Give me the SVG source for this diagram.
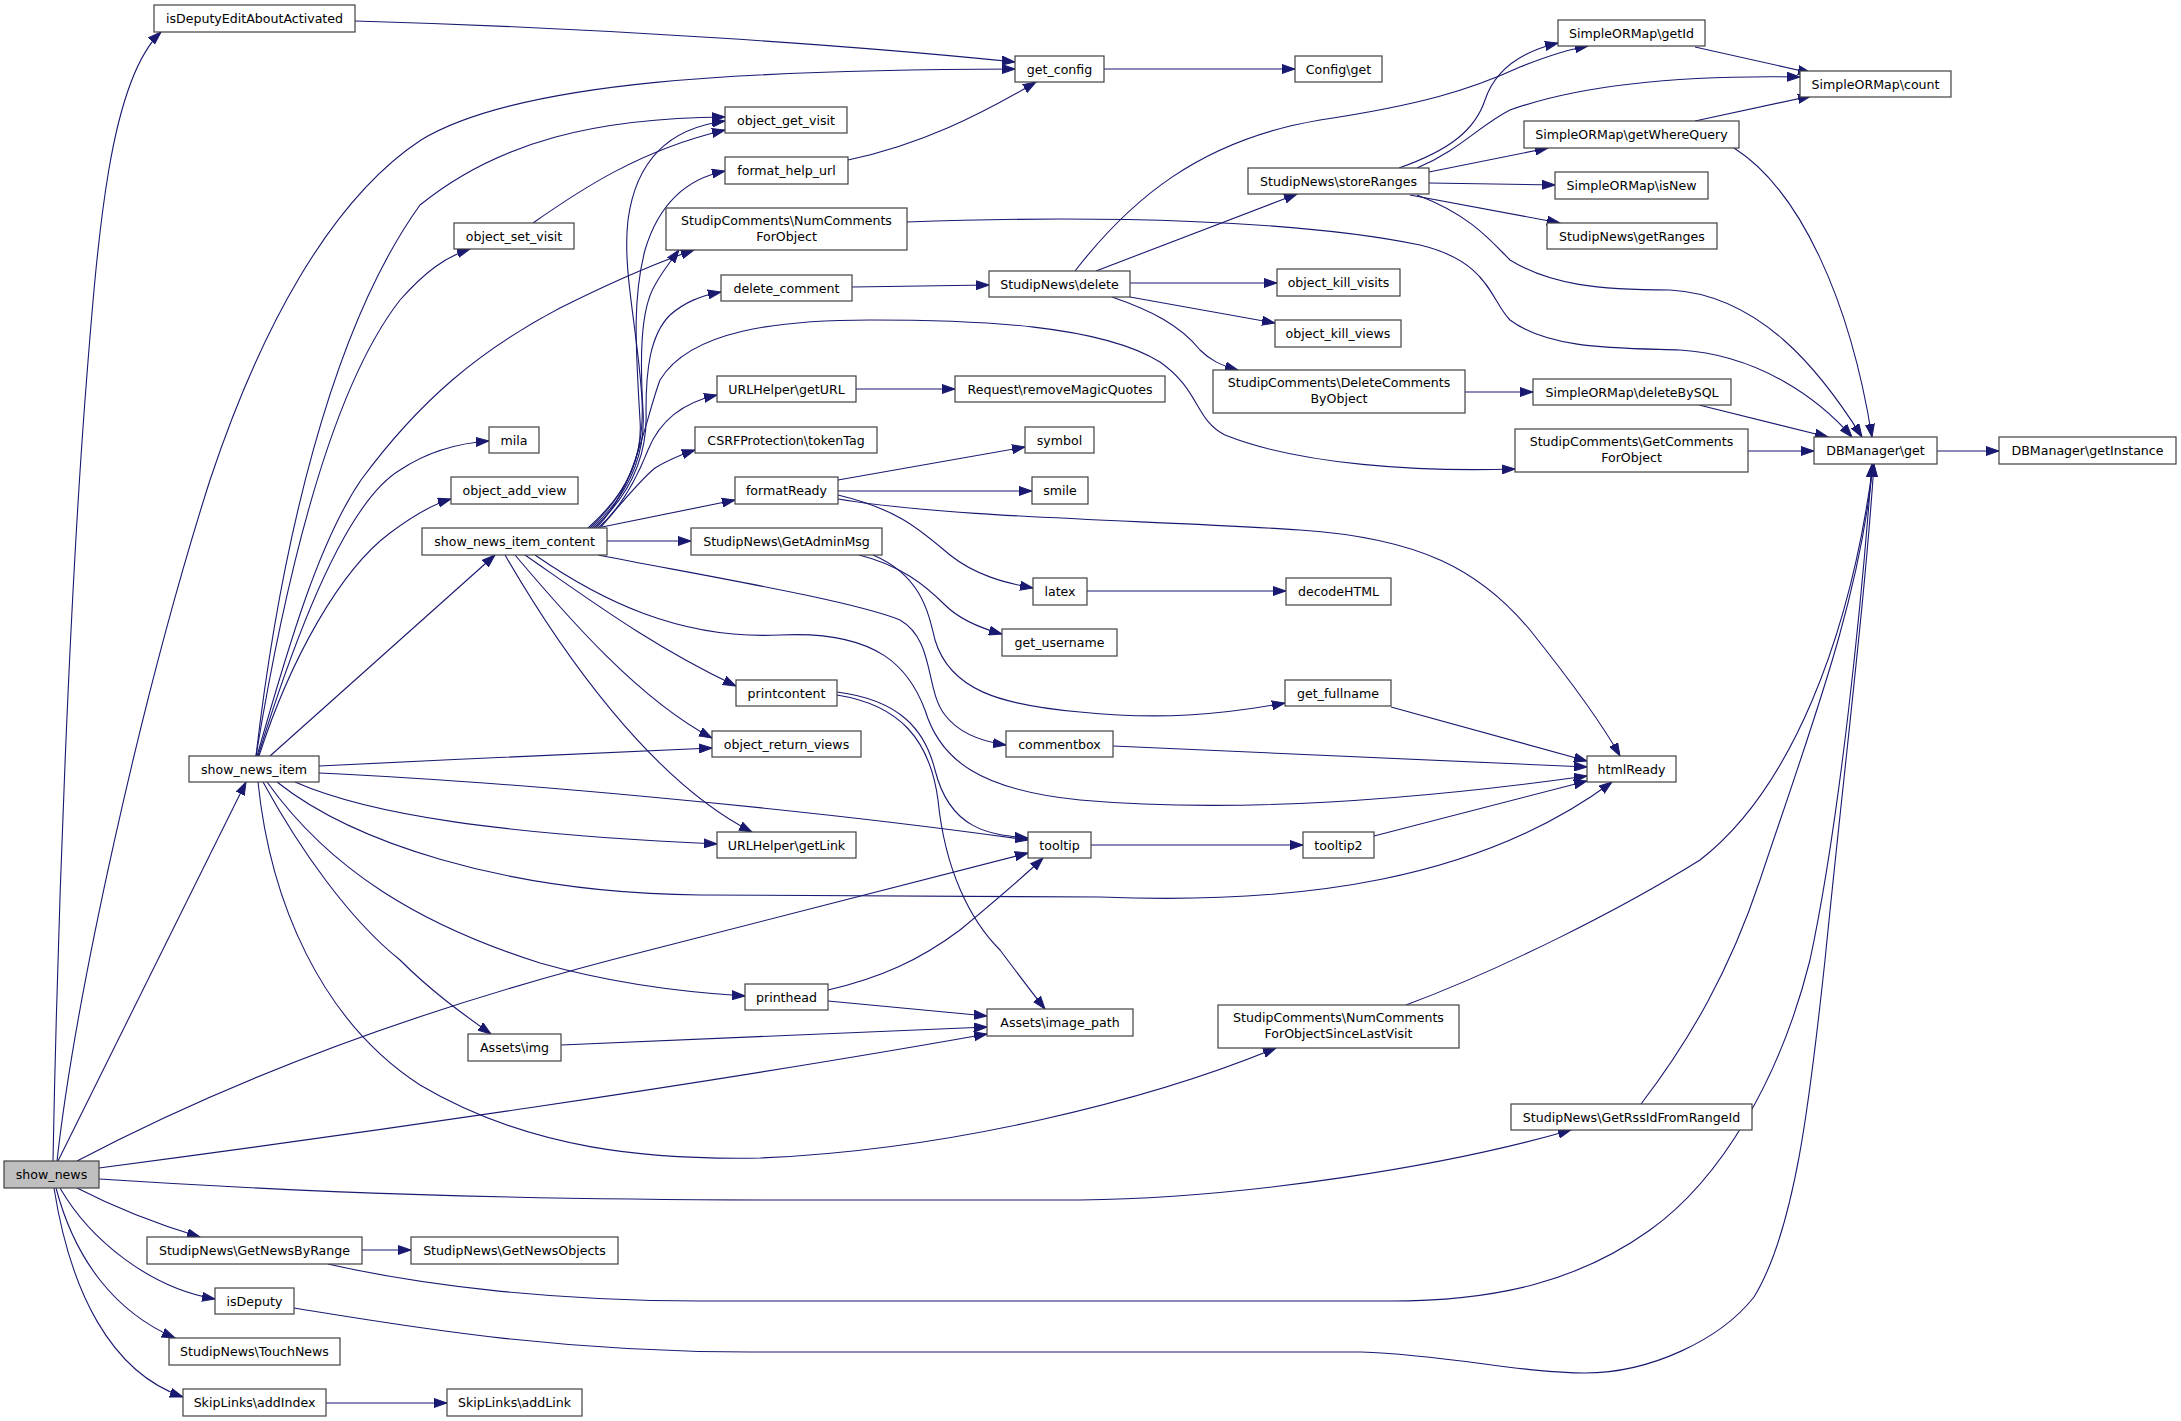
<svg xmlns="http://www.w3.org/2000/svg" width="2181" height="1421" viewBox="0 0 2181 1421">
<defs>
<marker id="a" markerUnits="userSpaceOnUse" markerWidth="14" markerHeight="10" refX="13" refY="5" orient="auto" viewBox="0 0 14 10">
<path d="M0,0.5 L13,5 L0,9.5 z" fill="#191970" stroke="#191970" stroke-width="1"/>
</marker>
</defs>
<style>
.n rect{fill:#ffffff;stroke:#404040;stroke-width:1.2}
.n.root rect{fill:#bfbfbf}
text{font-family:"DejaVu Sans","Liberation Sans",sans-serif;font-size:12.6px;text-anchor:middle;fill:#000000}
#edges path{fill:none;stroke:#191970;stroke-width:1.1;marker-end:url(#a)}
</style>
<rect x="0" y="0" width="2181" height="1421" fill="#ffffff"/>
<g id="edges">
<path d="M53,1161 C58,900 70,600 85,400 C98,230 110,80 161,32"/>
<path d="M57,1161 C75,1000 140,700 210,480 C260,330 330,200 421,140 C520,80 750,70 1015,69"/>
<path d="M58,1161 L246,782"/>
<path d="M77,1161 C250,1070 450,1000 650,950 C800,912 950,872 1028,853"/>
<path d="M99,1168 C350,1135 700,1085 987,1034"/>
<path d="M99,1179 C300,1192 500,1200 800,1200 L1080,1200 C1250,1198 1450,1165 1571,1130"/>
<path d="M77,1188 C110,1205 150,1222 200,1237"/>
<path d="M60,1188 C90,1240 150,1288 215,1299"/>
<path d="M56,1188 C75,1260 115,1312 175,1338"/>
<path d="M54,1188 C70,1290 110,1372 183,1397"/>
<path d="M256,756 C280,550 330,330 420,205 C500,140 600,118 725,117"/>
<path d="M256,756 C285,580 330,390 400,300 C425,272 445,257 470,249"/>
<path d="M257,756 C290,640 320,540 361,480 C420,400 480,350 560,308 C610,283 650,265 694,250"/>
<path d="M258,756 C300,620 350,500 400,470 C430,450 460,443 489,441"/>
<path d="M259,756 C290,660 340,570 390,533 C410,518 430,505 451,499"/>
<path d="M270,756 L495,555"/>
<path d="M319,766 C450,760 600,752 712,748"/>
<path d="M319,773 C500,781 800,808 1028,840"/>
<path d="M295,782 C370,815 500,834 717,844"/>
<path d="M277,782 C350,840 500,893 700,895 L1100,897 C1300,905 1480,880 1612,782"/>
<path d="M267,782 C330,870 420,925 540,963 C610,983 680,992 745,996"/>
<path d="M263,782 C300,850 350,920 400,960 C430,990 460,1012 491,1034"/>
<path d="M258,782 C270,900 320,1020 420,1085 C530,1150 650,1160 760,1158 C950,1150 1150,1100 1276,1048"/>
<path d="M588,528 C625,495 645,460 642,400 C638,330 622,270 628,220 C636,160 670,128 725,121"/>
<path d="M590,528 C625,495 643,460 640,420 C636,350 632,300 645,250 C660,200 690,178 725,171"/>
<path d="M592,528 C628,495 646,455 643,410 C640,360 640,310 655,285 C662,272 670,262 679,250"/>
<path d="M594,528 C630,495 648,455 646,410 C646,370 650,335 670,315 C685,302 700,296 721,292"/>
<path d="M596,528 C635,490 645,420 660,380 C690,330 780,320 870,320 C980,320 1100,325 1160,362 C1200,390 1195,420 1225,435 C1300,465 1420,472 1515,469"/>
<path d="M598,528 C625,505 640,470 648,450 C660,420 685,402 717,395"/>
<path d="M600,528 C620,505 640,480 655,468 C668,460 680,455 695,450"/>
<path d="M602,527 L735,500"/>
<path d="M607,541 L691,541"/>
<path d="M598,555 C700,575 850,600 900,620 C935,640 925,690 945,715 C960,735 985,742 1006,745"/>
<path d="M535,555 C600,600 680,640 780,635 C880,630 910,670 925,710 C940,760 980,790 1080,800 C1250,815 1450,795 1587,776"/>
<path d="M525,555 C590,600 650,645 736,686"/>
<path d="M515,555 C570,620 640,700 712,738"/>
<path d="M505,555 C560,650 650,780 752,832"/>
<path d="M837,692 C900,700 925,730 935,770 C950,830 990,835 1028,838"/>
<path d="M837,695 C900,705 930,740 938,800 C945,870 970,920 1000,950 C1015,970 1030,990 1045,1009"/>
<path d="M828,990 C880,978 920,960 960,930 C990,905 1020,880 1043,858"/>
<path d="M828,1001 L987,1016"/>
<path d="M561,1045 L987,1027"/>
<path d="M838,480 L1025,447"/>
<path d="M838,491 L1032,491"/>
<path d="M838,495 C900,510 920,530 950,555 C975,575 1005,583 1033,588"/>
<path d="M838,499 C950,518 1150,520 1300,530 C1420,538 1480,570 1530,630 C1570,680 1600,720 1620,756"/>
<path d="M1087,591 L1286,591"/>
<path d="M859,555 C900,565 925,585 945,605 C960,620 980,628 1002,634"/>
<path d="M873,555 C920,575 928,610 935,640 C950,690 1000,705 1080,712 C1160,720 1220,715 1285,703"/>
<path d="M1391,707 L1587,761"/>
<path d="M1113,746 L1587,767"/>
<path d="M1091,845 L1303,845"/>
<path d="M1374,836 L1587,781"/>
<path d="M852,287 L989,285"/>
<path d="M856,389 L955,389"/>
<path d="M1104,69 L1295,69"/>
<path d="M355,21 C600,28 850,45 1015,62"/>
<path d="M848,160 C920,145 980,115 1036,82"/>
<path d="M533,223 C580,190 640,150 725,130"/>
<path d="M907,222 C1100,215 1300,220 1420,245 C1490,262 1490,300 1510,320 C1550,350 1620,348 1680,350 C1760,355 1820,400 1852,437"/>
<path d="M1075,271 C1130,200 1200,140 1320,120 C1420,105 1470,90 1520,67 C1545,57 1565,50 1588,46"/>
<path d="M1399,168 C1450,150 1475,130 1485,100 C1495,70 1520,52 1558,43"/>
<path d="M1417,168 C1460,150 1480,125 1510,110 C1580,85 1680,75 1800,77"/>
<path d="M1429,172 L1548,148"/>
<path d="M1429,183 L1555,185"/>
<path d="M1410,195 L1560,223"/>
<path d="M1417,195 C1470,215 1490,240 1510,260 C1550,285 1600,290 1670,290 C1760,295 1820,370 1862,437"/>
<path d="M1096,271 L1297,194"/>
<path d="M1130,283 L1277,283"/>
<path d="M1130,297 L1275,323"/>
<path d="M1112,297 C1150,310 1180,325 1200,350 C1210,360 1220,365 1238,370"/>
<path d="M1465,392 L1533,392"/>
<path d="M1699,405 L1828,437"/>
<path d="M1748,451 L1814,451"/>
<path d="M1937,451 L1999,451"/>
<path d="M1695,47 L1811,73"/>
<path d="M1695,121 L1811,96"/>
<path d="M1734,148 C1800,190 1850,300 1872,437"/>
<path d="M1406,1005 C1500,970 1620,910 1700,860 C1790,790 1850,640 1873,464"/>
<path d="M1641,1104 C1690,1040 1730,970 1760,880 C1810,730 1860,600 1873,464"/>
<path d="M328,1264 C420,1285 550,1301 700,1301 L1390,1301 C1500,1301 1580,1280 1650,1230 C1720,1180 1780,1080 1810,960 C1840,820 1862,600 1872,464"/>
<path d="M294,1308 C400,1325 550,1352 750,1352 L1361,1352 C1450,1355 1520,1373 1585,1373 C1650,1373 1720,1340 1754,1297 C1795,1230 1810,1100 1825,960 C1845,760 1865,600 1874,464"/>
<path d="M362,1250 L411,1250"/>
<path d="M326,1403 L447,1403"/>
</g>
<g id="n_isDeputyEditAboutActivated" class="n"><rect x="154" y="5" width="201" height="27"/><text x="254.5" y="22.5">isDeputyEditAboutActivated</text></g>
<g id="n_get_config" class="n"><rect x="1015" y="56" width="89" height="26"/><text x="1059.5" y="73.5">get_config</text></g>
<g id="n_Config_get" class="n"><rect x="1295" y="56" width="87" height="26"/><text x="1338.5" y="73.5">Config\get</text></g>
<g id="n_object_get_visit" class="n"><rect x="725" y="107" width="122" height="26"/><text x="786" y="124.5">object_get_visit</text></g>
<g id="n_format_help_url" class="n"><rect x="725" y="157" width="123" height="27"/><text x="786.5" y="174.5">format_help_url</text></g>
<g id="n_NumCommentsForObject" class="n"><rect x="666" y="208" width="241" height="42"/><text x="786.5" y="225">StudipComments\NumComments</text><text x="786.5" y="241">ForObject</text></g>
<g id="n_object_set_visit" class="n"><rect x="454" y="223" width="120" height="26"/><text x="514" y="240.5">object_set_visit</text></g>
<g id="n_delete_comment" class="n"><rect x="721" y="275" width="131" height="26"/><text x="786.5" y="292.5">delete_comment</text></g>
<g id="n_StudipNews_delete" class="n"><rect x="989" y="271" width="141" height="26"/><text x="1059.5" y="288.5">StudipNews\delete</text></g>
<g id="n_SimpleORMap_getId" class="n"><rect x="1558" y="20" width="147" height="26"/><text x="1631.5" y="37.5">SimpleORMap\getId</text></g>
<g id="n_SimpleORMap_count" class="n"><rect x="1800" y="71" width="151" height="26"/><text x="1875.5" y="88.5">SimpleORMap\count</text></g>
<g id="n_SimpleORMap_getWhereQuery" class="n"><rect x="1524" y="121" width="215" height="27"/><text x="1631.5" y="138.5">SimpleORMap\getWhereQuery</text></g>
<g id="n_SimpleORMap_isNew" class="n"><rect x="1555" y="172" width="153" height="27"/><text x="1631.5" y="189.5">SimpleORMap\isNew</text></g>
<g id="n_StudipNews_getRanges" class="n"><rect x="1547" y="223" width="170" height="26"/><text x="1632" y="240.5">StudipNews\getRanges</text></g>
<g id="n_StudipNews_storeRanges" class="n"><rect x="1248" y="168" width="181" height="26"/><text x="1338.5" y="185.5">StudipNews\storeRanges</text></g>
<g id="n_object_kill_visits" class="n"><rect x="1277" y="269" width="123" height="27"/><text x="1338.5" y="286.5">object_kill_visits</text></g>
<g id="n_object_kill_views" class="n"><rect x="1275" y="320" width="126" height="27"/><text x="1338" y="337.5">object_kill_views</text></g>
<g id="n_DeleteCommentsByObject" class="n"><rect x="1213" y="370" width="252" height="43"/><text x="1339" y="387">StudipComments\DeleteComments</text><text x="1339" y="403">ByObject</text></g>
<g id="n_SimpleORMap_deleteBySQL" class="n"><rect x="1533" y="379" width="198" height="26"/><text x="1632" y="396.5">SimpleORMap\deleteBySQL</text></g>
<g id="n_GetCommentsForObject" class="n"><rect x="1515" y="429" width="233" height="43"/><text x="1631.5" y="446">StudipComments\GetComments</text><text x="1631.5" y="462">ForObject</text></g>
<g id="n_DBManager_get" class="n"><rect x="1814" y="437" width="123" height="27"/><text x="1875.5" y="454.5">DBManager\get</text></g>
<g id="n_DBManager_getInstance" class="n"><rect x="1999" y="437" width="177" height="27"/><text x="2087.5" y="454.5">DBManager\getInstance</text></g>
<g id="n_URLHelper_getURL" class="n"><rect x="717" y="376" width="139" height="26"/><text x="786.5" y="393.5">URLHelper\getURL</text></g>
<g id="n_Request_removeMagicQuotes" class="n"><rect x="955" y="376" width="210" height="26"/><text x="1060" y="393.5">Request\removeMagicQuotes</text></g>
<g id="n_CSRFProtection_tokenTag" class="n"><rect x="695" y="427" width="182" height="26"/><text x="786" y="444.5">CSRFProtection\tokenTag</text></g>
<g id="n_symbol" class="n"><rect x="1025" y="427" width="69" height="26"/><text x="1059.5" y="444.5">symbol</text></g>
<g id="n_mila" class="n"><rect x="489" y="427" width="50" height="26"/><text x="514" y="444.5">mila</text></g>
<g id="n_object_add_view" class="n"><rect x="451" y="477" width="127" height="27"/><text x="514.5" y="494.5">object_add_view</text></g>
<g id="n_formatReady" class="n"><rect x="735" y="477" width="103" height="27"/><text x="786.5" y="494.5">formatReady</text></g>
<g id="n_smile" class="n"><rect x="1032" y="477" width="56" height="27"/><text x="1060" y="494.5">smile</text></g>
<g id="n_show_news_item_content" class="n"><rect x="422" y="528" width="185" height="27"/><text x="514.5" y="545.5">show_news_item_content</text></g>
<g id="n_StudipNews_GetAdminMsg" class="n"><rect x="691" y="528" width="191" height="27"/><text x="786.5" y="545.5">StudipNews\GetAdminMsg</text></g>
<g id="n_latex" class="n"><rect x="1033" y="578" width="54" height="27"/><text x="1060" y="595.5">latex</text></g>
<g id="n_decodeHTML" class="n"><rect x="1286" y="578" width="105" height="27"/><text x="1338.5" y="595.5">decodeHTML</text></g>
<g id="n_get_username" class="n"><rect x="1002" y="629" width="115" height="27"/><text x="1059.5" y="646.5">get_username</text></g>
<g id="n_printcontent" class="n"><rect x="736" y="680" width="101" height="26"/><text x="786.5" y="697.5">printcontent</text></g>
<g id="n_get_fullname" class="n"><rect x="1285" y="680" width="106" height="26"/><text x="1338" y="697.5">get_fullname</text></g>
<g id="n_object_return_views" class="n"><rect x="712" y="731" width="149" height="26"/><text x="786.5" y="748.5">object_return_views</text></g>
<g id="n_commentbox" class="n"><rect x="1006" y="731" width="107" height="26"/><text x="1059.5" y="748.5">commentbox</text></g>
<g id="n_show_news_item" class="n"><rect x="189" y="756" width="130" height="26"/><text x="254" y="773.5">show_news_item</text></g>
<g id="n_htmlReady" class="n"><rect x="1587" y="756" width="89" height="26"/><text x="1631.5" y="773.5">htmlReady</text></g>
<g id="n_URLHelper_getLink" class="n"><rect x="717" y="832" width="139" height="26"/><text x="786.5" y="849.5">URLHelper\getLink</text></g>
<g id="n_tooltip" class="n"><rect x="1028" y="832" width="63" height="26"/><text x="1059.5" y="849.5">tooltip</text></g>
<g id="n_tooltip2" class="n"><rect x="1303" y="832" width="71" height="26"/><text x="1338.5" y="849.5">tooltip2</text></g>
<g id="n_printhead" class="n"><rect x="745" y="984" width="83" height="26"/><text x="786.5" y="1001.5">printhead</text></g>
<g id="n_Assets_img" class="n"><rect x="468" y="1034" width="93" height="27"/><text x="514.5" y="1051.5">Assets\img</text></g>
<g id="n_Assets_image_path" class="n"><rect x="987" y="1009" width="146" height="27"/><text x="1060" y="1026.5">Assets\image_path</text></g>
<g id="n_NumCommentsForObjectSinceLastVisit" class="n"><rect x="1218" y="1005" width="241" height="43"/><text x="1338.5" y="1022">StudipComments\NumComments</text><text x="1338.5" y="1038">ForObjectSinceLastVisit</text></g>
<g id="n_StudipNews_GetRssIdFromRangeId" class="n"><rect x="1511" y="1104" width="241" height="26"/><text x="1631.5" y="1121.5">StudipNews\GetRssIdFromRangeId</text></g>
<g id="n_show_news" class="n root"><rect x="4" y="1161" width="95" height="27"/><text x="51.5" y="1178.5">show_news</text></g>
<g id="n_StudipNews_GetNewsByRange" class="n"><rect x="147" y="1237" width="215" height="27"/><text x="254.5" y="1254.5">StudipNews\GetNewsByRange</text></g>
<g id="n_StudipNews_GetNewsObjects" class="n"><rect x="411" y="1237" width="207" height="27"/><text x="514.5" y="1254.5">StudipNews\GetNewsObjects</text></g>
<g id="n_isDeputy" class="n"><rect x="215" y="1288" width="79" height="26"/><text x="254.5" y="1305.5">isDeputy</text></g>
<g id="n_StudipNews_TouchNews" class="n"><rect x="169" y="1338" width="171" height="27"/><text x="254.5" y="1355.5">StudipNews\TouchNews</text></g>
<g id="n_SkipLinks_addIndex" class="n"><rect x="183" y="1389" width="143" height="27"/><text x="254.5" y="1406.5">SkipLinks\addIndex</text></g>
<g id="n_SkipLinks_addLink" class="n"><rect x="447" y="1389" width="135" height="27"/><text x="514.5" y="1406.5">SkipLinks\addLink</text></g>
</svg>
